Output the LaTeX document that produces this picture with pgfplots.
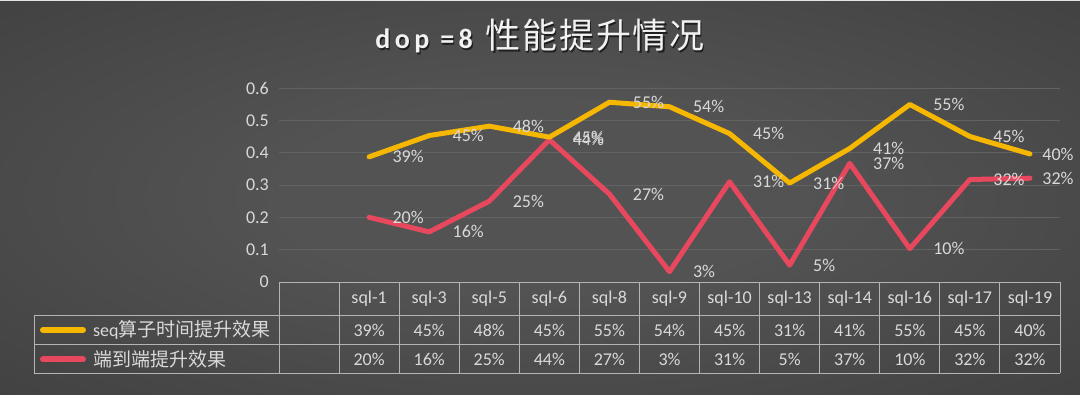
\documentclass[border=0pt]{standalone}
\usepackage{fontspec}
\setmainfont{Carlito}
\newfontfamily\cjk{Noto Sans CJK SC}
\newfontfamily\titlelat[LetterSpace=16]{Carlito}
\newfontfamily\titlecjk[LetterSpace=5]{Noto Sans CJK SC}
\usepackage{pgfplots}
\usepackage{pgfplotstable}
\pgfplotsset{compat=1.18}
\definecolor{yel}{HTML}{F5B700}
\definecolor{red1}{HTML}{E8485E}
\definecolor{labgray}{HTML}{D9D9D9}
\definecolor{gridc}{HTML}{626262}
\definecolor{tabc}{HTML}{B4B4B4}
\definecolor{bgin}{HTML}{535353}
\definecolor{bgout}{HTML}{252525}
\definecolor{titlec}{HTML}{F2F2F2}
\pgfdeclareradialshading{bgshade}{\pgfpoint{0bp}{0bp}}{color(0bp)=(bgin); color(12bp)=(bgin); color(76bp)=(bgout)}

\pgfplotstableread{
x y p dx
0 0.387 39 21
1 0.453 45 21
2 0.482 48 21
3 0.448 45 21
4 0.556 55 21
5 0.542 54 21
6 0.459 45 21
7 0.306 31 21
8 0.413 41 21
9 0.549 55 21
10 0.450 45 21
11 0.396 40 10
}\seqdata

\pgfplotstableread{
x y p dx
0 0.200 20 21
1 0.155 16 21
2 0.250 25 21
3 0.440 44 21
4 0.272 27 21
5 0.032 3 21
6 0.310 31 21
7 0.052 5 21
8 0.367 37 21
9 0.103 10 21
10 0.317 32 21
11 0.321 32 10
}\enddata

\begin{document}
\begin{tikzpicture}[x=1pt,y=1pt]
\useasboundingbox (0,0) rectangle (1080,394);
\shade[shading=bgshade] (0,0) rectangle (1080,394);
\fill[white!80!gray] (0,392.8) rectangle (1080,394);

% title
\node[anchor=base, text=black, opacity=0.6] at (541.2,343.6) {{\titlelat\bfseries\fontsize{28}{32}\selectfont dop =8}\hspace{13pt}{\titlecjk\fontsize{35}{38}\selectfont 性能提升情况}};
\node[anchor=base, text=titlec] at (540,345) {{\titlelat\bfseries\fontsize{28}{32}\selectfont dop =8}\hspace{13pt}{\titlecjk\fontsize{35}{38}\selectfont 性能提升情况}};

\begin{axis}[
  at={(279pt,112pt)}, anchor=south west,
  scale only axis, width=781pt, height=194pt,
  xmin=-1.5, xmax=11.5, ymin=0, ymax=0.6,
  axis line style={draw=none},
  xtick=\empty,
  ytick={0,0.1,0.2,0.3,0.4,0.5,0.6},
  yticklabels={0,0.1,0.2,0.3,0.4,0.5,0.6},
  ytick style={draw=none},
  yticklabel style={font=\fontsize{18}{21}\selectfont, text=labgray, anchor=east, inner sep=0pt, xshift=-10pt},
  ymajorgrids, grid style={gridc, line width=0.9pt},
  clip=false,
  /pgf/number format/assume math mode=true,
  nodes near coords={\pgfmathprintnumber[fixed,precision=0]{\pgfplotspointmeta}\%},
  point meta=explicit,
  visualization depends on={\thisrow{dx} \as \dxv},
  every node near coord/.style={anchor=west, inner sep=0pt, xshift=\dxv pt, text=labgray, font=\fontsize{18}{21}\selectfont},
]
\addplot[red1, line width=5pt, line join=round, line cap=round, mark=none] table[x=x, y=y, meta=p] {\enddata};
\addplot[yel, line width=5pt, line join=round, line cap=round, mark=none] table[x=x, y=y, meta=p] {\seqdata};
\end{axis}

% data table
\begin{scope}[tabc, line width=0.9pt]
\draw (279,112) -- (1060,112);
\draw (34,79) -- (1060,79);
\draw (34,50) -- (1060,50);
\draw (34,21) -- (1060,21);
\draw (34,79) -- (34,21);
\foreach \k in {0,...,13} { \draw ({279+\k*60.077},112) -- ({279+\k*60.077},21); }
\end{scope}

\begin{scope}[every node/.style={text=labgray, font=\fontsize{18}{21}\selectfont, inner sep=0pt}]
\foreach \n [count=\i from 0] in {sql-1,sql-3,sql-5,sql-6,sql-8,sql-9,sql-10,sql-13,sql-14,sql-16,sql-17,sql-19}
  { \node at ({279+(\i+1.5)*60.077},95.5) {\n}; }
\foreach \n [count=\i from 0] in {39,45,48,45,55,54,45,31,41,55,45,40}
  { \node at ({279+(\i+1.5)*60.077},63.5) {\n\%}; }
\foreach \n [count=\i from 0] in {20,16,25,44,27,3,31,5,37,10,32,32}
  { \node at ({279+(\i+1.5)*60.077},34.5) {\n\%}; }
\node[anchor=west] at (93,64) {seq{\cjk\fontsize{19}{22}\selectfont 算子时间提升效果}};
\node[anchor=west] at (93,34.5) {{\cjk\fontsize{19}{22}\selectfont 端到端提升效果}};
\end{scope}
\draw[yel, line width=6pt, line cap=round] (43,64) -- (83,64);
\draw[red1, line width=6pt, line cap=round] (43,34.5) -- (83,34.5);
\end{tikzpicture}
\end{document}
